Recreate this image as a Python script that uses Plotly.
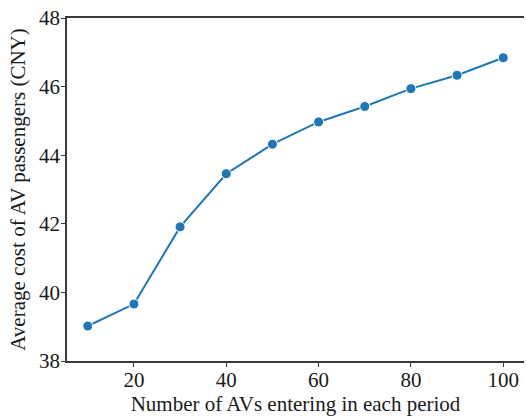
import plotly.graph_objects as go

x_vals = [10, 20, 30, 40, 50, 60, 70, 80, 90, 100]
y_vals = [39.02, 39.66, 41.91, 43.46, 44.32, 44.97, 45.42, 45.94, 46.33, 46.84]
x_ticks = [20, 40, 60, 80, 100]
y_ticks = [38, 40, 42, 44, 46, 48]

FONT = "Liberation Serif, Times New Roman, serif"
AX = "#3a3a3a"
TXT = "#1a1a1a"

fig = go.Figure(go.Scatter(
    x=x_vals, y=y_vals, mode="lines+markers",
    line=dict(color="#1f77b4", width=2),
    marker=dict(color="#1f77b4", size=10, line=dict(color="white", width=1)),
))

fig.update_layout(
    width=526, height=416,
    margin=dict(l=67, r=2, t=18, b=55),
    paper_bgcolor="white", plot_bgcolor="white",
    showlegend=False,
    font=dict(family=FONT, size=21, color=TXT),
    xaxis=dict(
        range=[5.5, 104.5], tickvals=x_ticks, ticks="outside", ticklen=4,
        tickcolor=AX, showline=True, linecolor=AX, linewidth=1.5, mirror=True,
        showgrid=False, zeroline=False, ticklabelstandoff=-5,
        tickfont=dict(family=FONT, size=21, color=TXT),
        title=dict(text="Number of AVs entering in each period", standoff=1,
                   font=dict(family=FONT, size=21, color=TXT)),
    ),
    yaxis=dict(
        range=[38, 48], tickvals=y_ticks, ticks="outside", ticklen=4,
        tickcolor=AX, showline=True, linecolor=AX, linewidth=1.5,
        showgrid=False, zeroline=False, ticklabelstandoff=-3,
        tickfont=dict(family=FONT, size=21, color=TXT),
        title=dict(text="Average cost of AV passengers (CNY)", standoff=8,
                   font=dict(family=FONT, size=21, color=TXT)),
    ),
)

fig.write_html("out.html")
